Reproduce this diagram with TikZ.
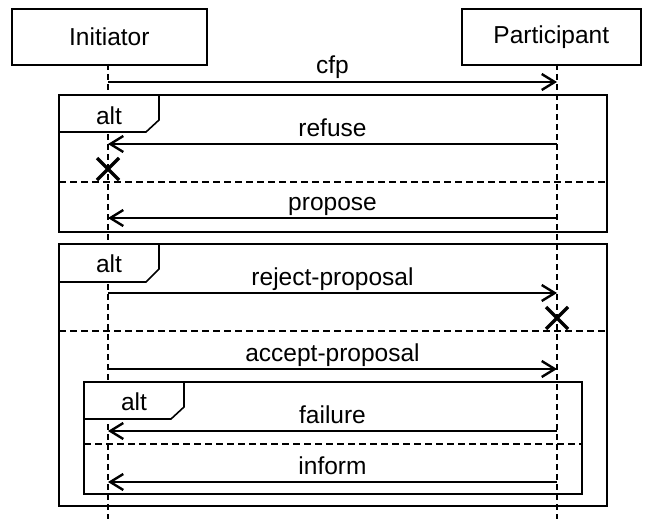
\documentclass[tikz,border=0pt]{standalone}
\usepackage{fontspec}
\setmainfont{Liberation Sans}
\usetikzlibrary{arrows.meta,calc}
\begin{document}
\begin{tikzpicture}[x=1pt,y=-1pt,
  every node/.style={font=\fontsize{24.5}{28}\selectfont},
  actor/.style={draw,line width=1.6pt,minimum width=195pt,minimum height=56pt,inner sep=0pt,anchor=north west},
  lifeline/.style={line width=2.6pt,dash pattern=on 6pt off 4pt},
  msg/.style={line width=2.4pt,-{Straight Barb[length=13pt,width=16pt,line width=2.4pt]}},
  frame/.style={line width=1.6pt},
  tab/.style={line width=1.6pt,fill=white},
  sep/.style={line width=2.6pt,dash pattern=on 7pt off 4pt},
  killx/.style={line width=3.4pt},
  lbl/.style={anchor=base,inner sep=0pt}]
\useasboundingbox (0,0) rectangle (645,519);
% frames
\draw[frame] (59,95) rectangle (607,232);
\draw[frame] (59,244) rectangle (607,506);
\draw[frame] (84,382) rectangle (582,494);
% actors
\node[actor] (ini) at (11,8) {Initiator};
\node[actor,minimum width=179pt] (par) at (461,8) {Participant};
% lifelines
\coordinate (itop) at (108,64);
\coordinate (ptop) at (557,64);
\coordinate (iend) at (108,519);
\coordinate (pend) at (557,519);
\draw[lifeline] (itop) -- (iend);
\draw[lifeline] (ptop) -- (pend);
% separators
\draw[sep] (59,182) -- (607,182);
\draw[sep] (59,331) -- (607,331);
\draw[sep] (84,444) -- (582,444);
% tabs
\draw[tab] (59,95) -- (159,95) -- (159,120) -- (146,132) -- (59,132) -- cycle;
\node (alt1) at (109,116) {alt};
\draw[tab] (59,244) -- (159,244) -- (159,269) -- (146,282) -- (59,282) -- cycle;
\node (alt2) at (109,264) {alt};
\draw[tab] (84,382) -- (184,382) -- (184,407) -- (171,419) -- (84,419) -- cycle;
\node (alt3) at (134,402) {alt};
% messages
\foreach \n/\y in {1/82,2/144,3/218,4/293,5/369,6/431,7/482}{
  \coordinate (i\n) at (108,\y);
  \coordinate (p\n) at (557,\y);
}
\draw[msg] (i1) -- (p1);
\node[lbl] (l1) at ($(i1)!0.5!(p1)+(0,-8)$) {cfp};
\draw[msg] (p2) -- (i2);
\node[lbl] (l2) at ($(i2)!0.5!(p2)+(0,-8)$) {refuse};
\draw[msg] (p3) -- (i3);
\node[lbl] (l3) at ($(i3)!0.5!(p3)+(0,-8)$) {propose};
\draw[msg] (i4) -- (p4);
\node[lbl] (l4) at ($(i4)!0.5!(p4)+(0,-8)$) {reject-proposal};
\draw[msg] (i5) -- (p5);
\node[lbl] (l5) at ($(i5)!0.5!(p5)+(0,-8)$) {accept-proposal};
\draw[msg] (p6) -- (i6);
\node[lbl] (l6) at ($(i6)!0.5!(p6)+(0,-8)$) {failure};
\draw[msg] (p7) -- (i7);
\node[lbl] (l7) at ($(i7)!0.5!(p7)+(0,-8)$) {inform};
% destruction marks
\coordinate (x1) at (108,169);
\coordinate (x2) at (557,318);
\draw[killx] ($(x1)+(-11,-11)$) -- ($(x1)+(11,11)$) ($(x1)+(-11,11)$) -- ($(x1)+(11,-11)$);
\draw[killx] ($(x2)+(-11,-11)$) -- ($(x2)+(11,11)$) ($(x2)+(-11,11)$) -- ($(x2)+(11,-11)$);
\end{tikzpicture}
\end{document}
